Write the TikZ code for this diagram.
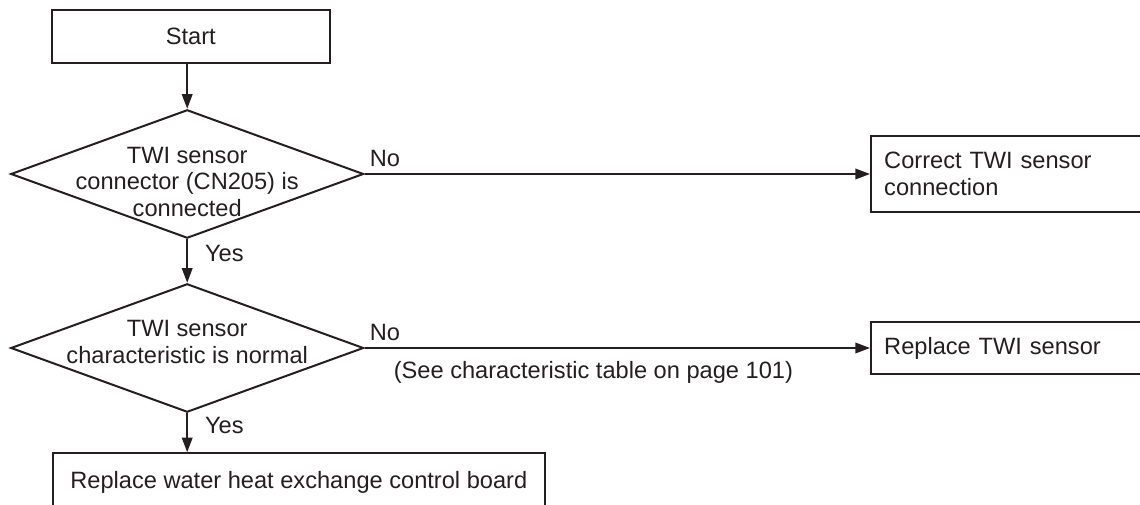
\documentclass[tikz,border=0pt]{standalone}
\usepackage{fontspec}
\setmainfont{Liberation Sans}
\usetikzlibrary{arrows.meta,positioning,shapes.geometric}
\definecolor{ink}{HTML}{231F20}

\begin{document}
\begin{tikzpicture}[font=\fontsize{11.2}{12.6}\selectfont, color=ink,
  >={Triangle[length=7pt, width=5pt]},
  every path/.style={line width=0.95pt},
  box/.style={draw, minimum height=#1, align=center, inner sep=0pt},
  box/.default=0.88cm,
  dec/.style={draw, diamond, minimum width=5.88cm, minimum height=2.14cm, inner sep=0pt},
  act/.style={draw, anchor=west, minimum height=#1, text width=4.2cm, align=left, inner xsep=0.22cm},
  lab/.style={inner sep=3pt}]
  \useasboundingbox (0,0) rectangle (19,8.4);
  % main column
  \node[box, minimum width=4.63cm] (start) at (3.18,7.79) {Start};
  \node[dec] (d1) at (3.12,5.5) {};
  \node[align=center] (t1) at ([yshift=-0.13cm]d1.center) {TWI sensor\\connector (CN205) is\\connected};
  \node[dec] (d2) at (3.12,2.6) {};
  \node[align=center] (t2) at ([yshift=0.1cm]d2.center) {TWI sensor\\characteristic is normal};
  \node[box=0.97cm, minimum width=8.2cm] (fin) at (4.98,0.36) {Replace water heat exchange control board};
  % actions on the right
  \node[act=1.27cm] (c1) at (14.5,5.5) {Correct TWI sensor\\connection};
  \node[act=0.86cm] (c2) at (14.5,2.6) {Replace TWI sensor};
  % connectors
  \draw[->] (d1.north |- start.south) -- (d1.north);
  \draw[->] (d1.south) -- node[lab, right, pos=0.32, xshift=5pt]{Yes} (d2.north);
  \draw[->] (d2.south) -- node[lab, right, pos=0.32, xshift=5pt]{Yes} (d2.south |- fin.north);
  \draw[->] (d1.east) -- node[lab, pos=0, anchor=south west, inner xsep=2pt]{No} (c1.west);
  \draw[->] (d2.east) -- node[lab, pos=0, anchor=south west, inner xsep=2pt]{No} (c2.west);
  \node[anchor=north, inner sep=0pt] (note) at (9.89,2.39) {(See characteristic table on page 101)};
\end{tikzpicture}
\end{document}
